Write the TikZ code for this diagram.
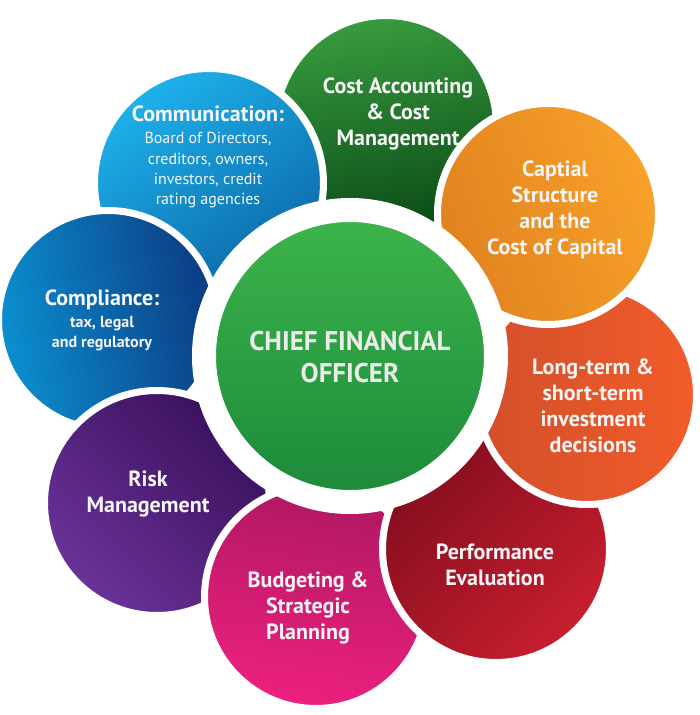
\documentclass[tikz,border=0pt]{standalone}
\usepackage{fontspec}
\setmainfont{PT Sans}
\definecolor{costA}{HTML}{389C3E}
\definecolor{costB}{HTML}{0A4A17}
\definecolor{commA}{HTML}{1DB2EC}
\definecolor{commB}{HTML}{0C66A6}
\definecolor{complA}{HTML}{0B90D0}
\definecolor{complB}{HTML}{0C3A82}
\definecolor{riskA}{HTML}{6A3399}
\definecolor{riskB}{HTML}{3A105C}
\definecolor{budgA}{HTML}{AE1860}
\definecolor{budgB}{HTML}{EE2080}
\definecolor{perfA}{HTML}{850E1E}
\definecolor{perfB}{HTML}{C71F2F}
\definecolor{longA}{HTML}{D24F2A}
\definecolor{longB}{HTML}{F25C2A}
\definecolor{captA}{HTML}{E0821F}
\definecolor{captB}{HTML}{F8A12A}
\definecolor{cfoA}{HTML}{3DB54B}
\definecolor{cfoB}{HTML}{1C893A}
\begin{document}
\begin{tikzpicture}[x=1pt,y=-1pt,
  petal/.style={circle, inner sep=0pt, draw=white, line width=7pt, minimum size=#1},
  lbl/.style={text=white!96!black, font=\bfseries\fontsize{22}{26}\selectfont, align=center, inner sep=0pt}
]
\useasboundingbox (0,0) rectangle (700,715);
\fill[white] (0,0) rectangle (700,715);

% petals in stacking order (bottom first)
\node[petal=221pt, top color=costA, bottom color=costB, shading angle=10] (cost) at (386,126) {};
\node[petal=229pt, top color=commA, bottom color=commB, shading angle=35] (comm) at (209,183) {};
\node[petal=219pt, top color=complA, bottom color=complB, shading angle=100] (compl) at (108,320) {};
\node[petal=225pt, top color=riskA, bottom color=riskB, shading angle=135] (risk) at (157,503) {};
\node[petal=223pt, top color=budgA, bottom color=budgB, shading angle=-10] (budg) at (316,597) {};
\node[petal=227pt, top color=perfA, bottom color=perfB, shading angle=45] (perf) at (496,549) {};
\node[petal=219pt, top color=longA, bottom color=longB, shading angle=90] (long) at (587,395) {};
\node[petal=221pt, top color=captA, bottom color=captB, shading angle=110] (capt) at (548,214) {};

% centre
\node[circle, inner sep=0pt, draw=white, line width=24pt, minimum size=292pt,
      top color=cfoA, bottom color=cfoB] (cfo) at (350,356) {};

% labels
\node[lbl] (tcost) at (398,114) {Cost Accounting\\ \&\ Cost\\ Management};
\node[lbl] (tcapt) at (555,210) {Captial\\ Structure\\ and the\\ Cost of Capital};
\node[lbl] (tlong) at (593,406) {Long-term \&\\ short-term\\ investment\\ decisions};
\node[lbl] (tperf) at (495,565) {Performance\\ Evaluation};
\node[lbl] (tbudg) at (308,608) {Budgeting \&\\ Strategic\\ Planning};
\node[lbl] (trisk) at (148,494) {Risk\\ Management};
\node[lbl, anchor=north] (tcompl) at (102,290) {Compliance:\\[-4pt]
  {\fontsize{16}{20}\selectfont tax, legal}\\[-6pt]
  {\fontsize{16}{20}\selectfont and regulatory}};
\node[lbl, anchor=north] (tcomm) at (208,106) {Communication:\\[-4pt]
  {\fontsize{16}{20}\selectfont\mdseries Board of Directors,}\\[-5pt]
  {\fontsize{16}{20}\selectfont\mdseries creditors, owners,}\\[-6pt]
  {\fontsize{16}{20}\selectfont\mdseries investors, credit}\\[-6pt]
  {\fontsize{16}{20}\selectfont\mdseries rating agencies}};
\node[lbl, font=\bfseries\fontsize{27}{32}\selectfont, text=white!92!black] (tcfo) at (350,357) {CHIEF FINANCIAL\\ OFFICER};
\end{tikzpicture}
\end{document}
